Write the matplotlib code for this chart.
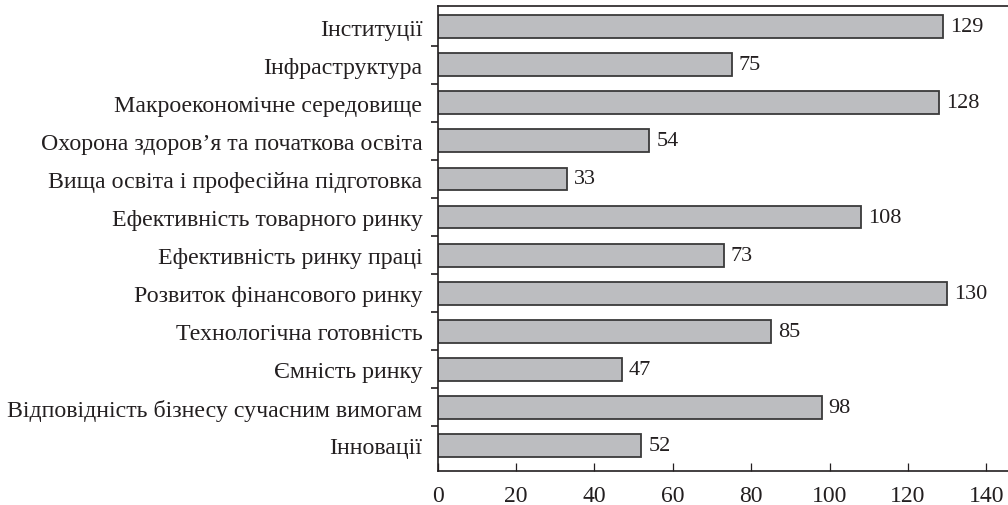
import numpy as np
import matplotlib.pyplot as plt

# Pillars of competitiveness and their ranks
categories = [
    "Інституції",
    "Інфраструктура",
    "Макроекономічне середовище",
    "Охорона здоров’я та початкова освіта",
    "Вища освіта і професійна підготовка",
    "Ефективність товарного ринку",
    "Ефективність ринку праці",
    "Розвиток фінансового ринку",
    "Технологічна готовність",
    "Ємність ринку",
    "Відповідність бізнесу сучасним вимогам",
    "Інновації",
]
values = [129, 75, 128, 54, 33, 108, 73, 130, 85, 47, 98, 52]
x_ticks = [0, 20, 40, 60, 80, 100, 120, 140]

plt.rcParams['font.family'] = ['Liberation Serif', 'DejaVu Serif']
text_color = "#231f20"

fig = plt.figure(figsize=(10.08, 5.06), dpi=100)
ax = fig.add_axes([0.4342, 0.0672, 0.5668, 0.9188])

pos = np.arange(len(categories))
ax.barh(pos, values, height=0.6, color="#bcbdc0", edgecolor="#3a3a3a", linewidth=1.3)

for p, v in zip(pos, values):
    ax.annotate(str(v), (v, p), xytext=(5, 0), textcoords="offset points",
                va="center", ha="left", fontsize=16, color=text_color)

ax.set_ylim(len(categories) - 1 + 0.67, -0.54)
ax.set_xlim(0, 145.8)

ax.set_yticks(pos)
ax.set_yticklabels(categories)
ax.set_yticks(pos[:-1] + 0.5, minor=True)
ax.tick_params(axis='y', which='major', length=0, pad=11, labelsize=17.2, labelcolor=text_color)
ax.tick_params(axis='y', which='minor', length=5, width=1.2, direction='out', color=text_color)

ax.set_xticks(x_ticks)
ax.tick_params(axis='x', direction='in', length=6, width=0.9, pad=10, labelsize=17,
               labelcolor=text_color, color=text_color)

for side in ['left', 'bottom', 'top']:
    ax.spines[side].set_linewidth(1.2)
    ax.spines[side].set_color(text_color)
ax.spines['right'].set_visible(False)

fig.savefig("out.png", dpi=100)
